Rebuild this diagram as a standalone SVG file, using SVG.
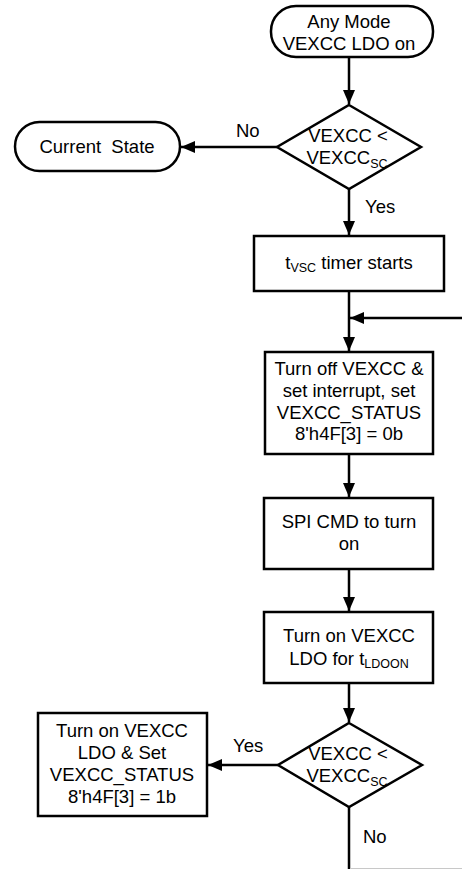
<svg xmlns="http://www.w3.org/2000/svg" width="462" height="869" viewBox="0 0 462 869">
<defs>
<style>
.s{fill:#fff;stroke:#000;stroke-width:2.5}
.t{font-family:"Liberation Sans",Arial,sans-serif;font-size:18.5px;fill:#000;text-anchor:middle}
.l{font-family:"Liberation Sans",Arial,sans-serif;font-size:18.5px;fill:#000}
.c{fill:none;stroke:#000;stroke-width:2.5}
.sub{font-size:12.5px}
</style>
<marker id="ah" markerWidth="14" markerHeight="12" viewBox="0 0 14 12" refX="14" refY="6" orient="auto" markerUnits="userSpaceOnUse">
<path d="M0,0 L14,6 L0,12 z" fill="#000"/>
</marker>
</defs>
<rect width="462" height="869" fill="#fff"/>
<g id="connectors">
<line class="c" x1="349" y1="57" x2="349" y2="104" marker-end="url(#ah)"/>
<line class="c" x1="277" y1="147" x2="181" y2="147" marker-end="url(#ah)"/>
<line class="c" x1="349" y1="189" x2="349" y2="235" marker-end="url(#ah)"/>
<line class="c" x1="349" y1="291" x2="349" y2="351" marker-end="url(#ah)"/>
<line class="c" x1="462" y1="318" x2="350" y2="318" marker-end="url(#ah)"/>
<line class="c" x1="349" y1="454" x2="349" y2="497" marker-end="url(#ah)"/>
<line class="c" x1="349" y1="569" x2="349" y2="611" marker-end="url(#ah)"/>
<line class="c" x1="349" y1="683" x2="349" y2="722" marker-end="url(#ah)"/>
<line class="c" x1="278" y1="765" x2="208" y2="765" marker-end="url(#ah)"/>
<line class="c" x1="349" y1="807" x2="349" y2="869"/>
<line x1="350" y1="868.5" x2="462" y2="868.5" stroke="#c8c8c8" stroke-width="1"/>
<text class="l" x="236" y="137">No</text>
<text class="l" x="365" y="213">Yes</text>
<text class="l" x="233" y="752">Yes</text>
<text class="l" x="363" y="843">No</text>
</g>
<g id="start">
<rect class="s" x="271" y="6" width="162" height="51" rx="25" ry="25"/>
<text class="t" x="349" y="28">Any Mode</text>
<text class="t" x="349" y="50">VEXCC LDO on</text>
</g>
<g id="decision1">
<polygon class="s" points="349,105 421,147 349,189 277,147"/>
<text class="t" x="348" y="142">VEXCC &lt;</text>
<text class="t" x="347" y="164">VEXCC<tspan class="sub" dy="4">SC</tspan></text>
</g>
<g id="current">
<rect class="s" x="15" y="122" width="165" height="49" rx="24.5" ry="24.5"/>
<text class="t" x="97" y="153" xml:space="preserve">Current  State</text>
</g>
<g id="timer">
<rect class="s" x="254" y="236" width="190" height="55"/>
<text class="t" x="349" y="269">t<tspan class="sub" dy="3">VSC</tspan><tspan dy="-3"> timer starts</tspan></text>
</g>
<g id="turnoff">
<rect class="s" x="265" y="352" width="168" height="102"/>
<text class="t" x="349" y="375">Turn off VEXCC &amp;</text>
<text class="t" x="349" y="397">set interrupt, set</text>
<text class="t" x="349" y="419">VEXCC_STATUS</text>
<text class="t" x="349" y="440">8'h4F[3] = 0b</text>
</g>
<g id="spi">
<rect class="s" x="264" y="498" width="169" height="71"/>
<text class="t" x="349" y="528">SPI CMD to turn</text>
<text class="t" x="349" y="550">on</text>
</g>
<g id="turnon">
<rect class="s" x="264" y="612" width="169" height="71"/>
<text class="t" x="349" y="642">Turn on VEXCC</text>
<text class="t" x="349" y="665">LDO for t<tspan class="sub" dy="3">LDOON</tspan></text>
</g>
<g id="decision2">
<polygon class="s" points="349,723 422,765 349,807 278,765"/>
<text class="t" x="348" y="760">VEXCC &lt;</text>
<text class="t" x="347" y="782">VEXCC<tspan class="sub" dy="4">SC</tspan></text>
</g>
<g id="setstatus">
<rect class="s" x="38" y="713" width="169" height="103"/>
<text class="t" x="122" y="737">Turn on VEXCC</text>
<text class="t" x="122" y="759">LDO &amp; Set</text>
<text class="t" x="122" y="781">VEXCC_STATUS</text>
<text class="t" x="122" y="803">8'h4F[3] = 1b</text>
</g>
</svg>
